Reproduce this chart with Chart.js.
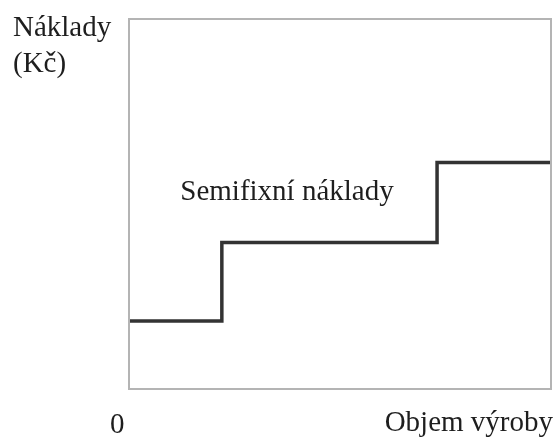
<!DOCTYPE html>
<html lang="cs">
  <head>
    <meta charset="UTF-8" />
    <title>Semifixní náklady</title>
    <style>
      html, body {
        margin: 0;
        padding: 0;
        background: #fff;
      }
      .wrap {
        width: 559px;
        height: 441px;
        position: relative;
      }
    </style>
    <script src="https://cdn.jsdelivr.net/npm/chart.js"></script>
  </head>
  <body>
    <div class="wrap">
      <canvas id="costChart" width="559" height="441"></canvas>
    </div>
    <script>
      // objem výroby (x) and náklady (y), scale 0-100
      const volume = [0, 22, 73, 100];
      const costs = [18.4, 39.6, 61.2, 61.2];
      const yTitle = ["Náklady", "(Kč)"];
      const xTitle = "Objem výroby";
      const originLabel = "0";
      const seriesLabel = "Semifixní náklady";

      const font = "29px 'Liberation Serif', 'DejaVu Serif', serif";

      // frame round the plot area plus the plain text labels
      const framePlugin = {
        id: "frame",
        afterDraw(chart) {
          const c = chart.ctx;
          const a = chart.chartArea;
          c.save();
          c.strokeStyle = "#b4b4b4";
          c.lineWidth = 2;
          c.strokeRect(a.left, a.top, a.right - a.left, a.bottom - a.top);
          c.fillStyle = "#1e1e1e";
          c.font = font;
          c.textBaseline = "alphabetic";
          c.textAlign = "left";
          c.fillText(yTitle[0], 13, 36);
          c.fillText(yTitle[1], 13, 72);
          c.fillText(originLabel, 110, 433);
          c.textAlign = "right";
          c.fillText(xTitle, 553, 431);
          c.textAlign = "center";
          c.fillText(seriesLabel, 287, 200);
          c.restore();
        }
      };

      new Chart(document.getElementById("costChart"), {
        type: "line",
        data: {
          datasets: [{
            label: seriesLabel,
            data: volume.map((v, i) => ({ x: v, y: costs[i] })),
            stepped: "before",
            borderColor: "#333333",
            borderWidth: 3.5,
            pointRadius: 0,
            fill: false,
            clip: false
          }]
        },
        options: {
          responsive: false,
          animation: false,
          layout: { padding: { left: 129, top: 19, right: 8, bottom: 52 } },
          plugins: {
            legend: { display: false },
            tooltip: { enabled: false }
          },
          scales: {
            x: { type: "linear", min: 0, max: 100, display: false },
            y: { min: 0, max: 100, display: false }
          }
        },
        plugins: [framePlugin]
      });
    </script>
  </body>
</html>
